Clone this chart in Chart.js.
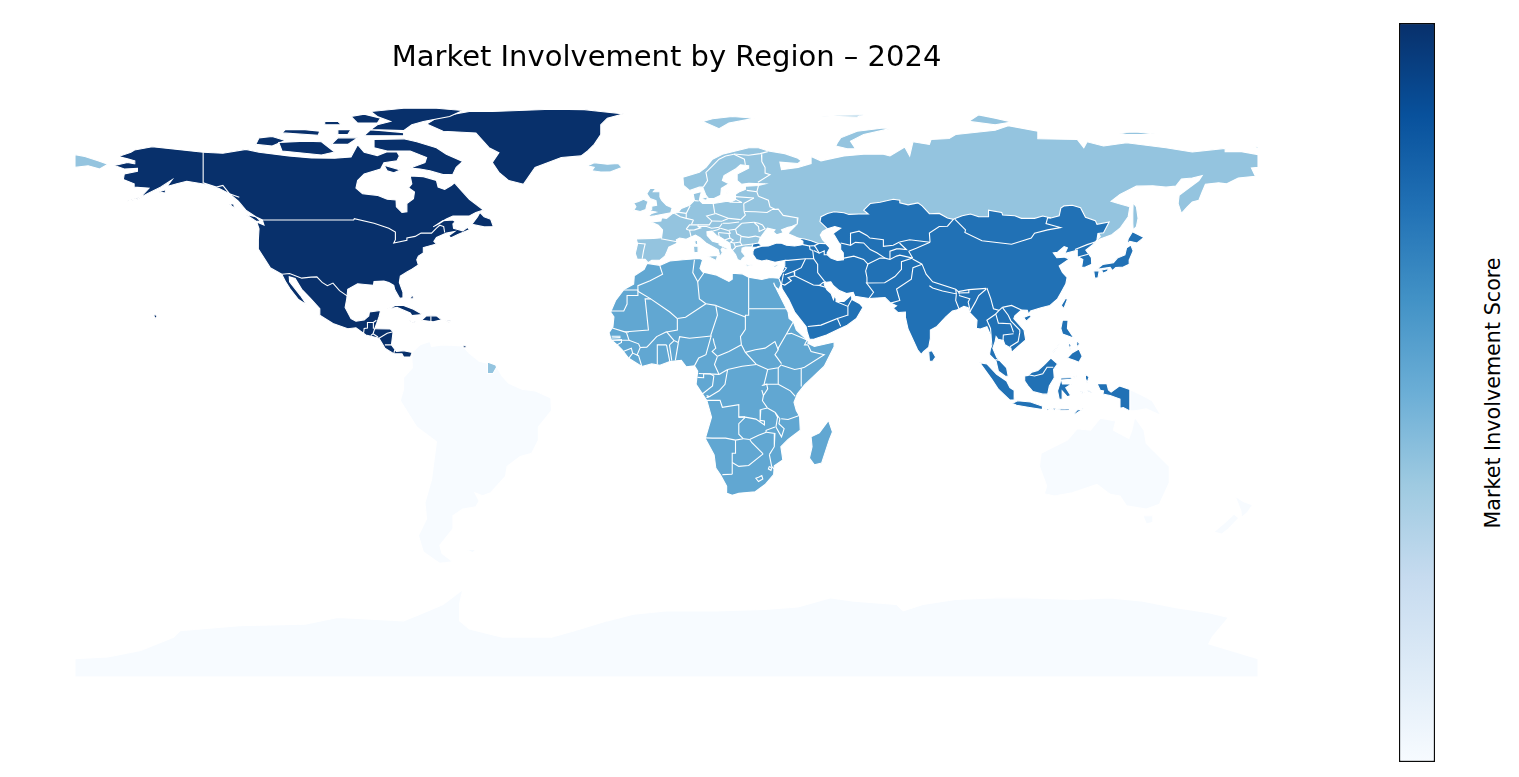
<!DOCTYPE html>
<html>
<head>
<meta charset="utf-8">
<title>Market Involvement by Region – 2024</title>
<script src="https://cdn.jsdelivr.net/npm/chart.js@4"></script>
<style>
  html, body { margin: 0; background: #fff; overflow: hidden; }
  #map { position: absolute; left: 0; top: 0; }
  #bar { position: absolute; left: 1393px; top: 17px; }
  #barLabel {
    position: absolute; left: 1493px; top: 393px; white-space: nowrap;
    font: 20.7px "DejaVu Sans"; color: #000;
    transform: translate(-50%, -50%) rotate(-90deg);
  }
</style>
</head>
<body>
<canvas id="map" width="1380" height="777"></canvas>
<canvas id="bar" width="48" height="751"></canvas>
<div id="barLabel">Market Involvement Score</div>
<script>
const chartTitle = 'Market Involvement by Region – 2024';
const regionNames = ['North America', 'Europe', 'Africa', 'Asia', 'Rest of world'];
const regionScores = [100, 40, 53, 75, 0];
const bluesStops = ['#f7fbff', '#deebf7', '#c6dbef', '#9ecae1', '#6baed6', '#4292c6', '#2171b5', '#08519c', '#08306b'];

// outlines are [lon, lat] pairs
const northAmericaShapes = [
  [[-168,65.6],[-164,66.5],[-162,66.1],[-161.8,67],[-164,67.6],[-166.8,68.3],[-163,69.6],[-161.9,70.3],[-156.5,71.3],[-148,70.4],[-141,69.6],[-135,69.3],[-128,70.5],[-124,69.6],[-115,68.5],[-108,67.9],[-101,67.8],[-96,68.2],[-94,71.9],[-92,69.6],[-88,68.6],[-85,69.8],[-82,69.7],[-81.3,68.5],[-82,67],[-86,66.4],[-87,64.5],[-92,63],[-94,61],[-94.5,58.7],[-92.5,57],[-88,56.5],[-85,55.3],[-82.3,55.1],[-82.2,53],[-80.5,51.3],[-79,51.5],[-79,54],[-77,55.5],[-76.7,57.5],[-78.5,58.8],[-77.5,60],[-78,62.4],[-74,62.2],[-70,61],[-69.5,59],[-67.5,58.3],[-65.5,59.5],[-64.5,60.3],[-62,57.5],[-60,55.3],[-57,53],[-55.7,52],[-58,51.3],[-60,50.2],[-65,50.2],[-67,49.3],[-69,48],[-71,46.9],[-68,48.8],[-65,49],[-64.3,48.5],[-65,47.8],[-64.8,46.5],[-62,45.7],[-60.5,46.8],[-60,46],[-63.5,44.6],[-65.7,43.5],[-66.2,44.3],[-64.5,45.5],[-67,45],[-70,43.7],[-70.8,42.5],[-70,41.7],[-74,40.6],[-74,39],[-75.5,38],[-76,36.9],[-75.5,35.3],[-77.5,34],[-79,33.2],[-81,31.9],[-81.3,30],[-80.2,27],[-80.2,25.3],[-81.2,25.2],[-82.7,27.8],[-83,29.1],[-84.5,30],[-86,30.4],[-89,30.3],[-89.2,29.1],[-91,29.3],[-94,29.6],[-97,27.9],[-97.3,25],[-97.8,22.4],[-96,19],[-94.5,18.2],[-92,18.6],[-90.6,19.8],[-90.4,21],[-87,21.5],[-87.5,19.5],[-88.2,17.5],[-88.8,15.9],[-84,15.8],[-83.2,15],[-83.7,11],[-82.2,9],[-80,9.2],[-77.4,8.7],[-77.9,7.3],[-80,7.3],[-80.5,8.3],[-83,8.3],[-85.7,10],[-87.5,13],[-91.5,14],[-94.5,16.2],[-97,15.9],[-101.5,17.5],[-105.5,20],[-105.5,22],[-108.5,25.3],[-111,27.9],[-113,31.2],[-114.8,31.7],[-114.7,30.2],[-111.4,26],[-109.5,23.2],[-112,24.8],[-114.5,28],[-115.8,30],[-117.1,32.5],[-120.6,34.5],[-122.5,37.5],[-124.3,40.3],[-124.2,43],[-124,46.3],[-124.7,48.4],[-122.5,47.5],[-123,49],[-125,50],[-128,52],[-130.3,54.7],[-133,57],[-136,58.5],[-140,59.8],[-146,60.8],[-149,60],[-152,59.2],[-150.5,61.2],[-154,59],[-158,57],[-161,55.3],[-164.5,54.6],[-160,56],[-157.5,58.7],[-162,59],[-162,60],[-165.3,61.3],[-165,63],[-161,63.8],[-161,64.7],[-165,64.5]],
  [[-80,73.7],[-76,72.8],[-70,71],[-67,69],[-62,66.8],[-64,65],[-65,62.9],[-68,62.8],[-72,64],[-75,64.5],[-78,64.8],[-73.5,66.5],[-73,68],[-78,70],[-85,70],[-89,71],[-89,73.5]],
  [[-117,70],[-105,68.8],[-101,69.7],[-105,72.8],[-110,73],[-118,72.6]],
  [[-125,72],[-120,71.5],[-116,73.2],[-120,74.4],[-124,74]],
  [[-90,76.5],[-80,76.2],[-77.5,78],[-74,79],[-66,80.5],[-62,82.3],[-70,83],[-80,83],[-90,82],[-88,80.5],[-84,79],[-88,78]],
  [[-92,74.7],[-80,74.6],[-80,75.6],[-90,76.5]],
  [[-94,78.5],[-88,78.5],[-87,80],[-92,81.2],[-96,80.5]],
  [[-117,75.5],[-106,74.8],[-105.5,76],[-110,76.5],[-116,76.5]],
  [[-102,72],[-97,72],[-94,74],[-100,74]],
  [[-100,75],[-97,75],[-96,76.5],[-100,76.5]],
  [[-104,78],[-99,78],[-100,79],[-104,79]],
  [[-86,65.7],[-81,64.2],[-83,63.4],[-85,64]],
  [[-59.2,47.7],[-55.5,46.9],[-52.7,47],[-53.5,49.2],[-55.5,50],[-56.8,51.3],[-57.5,50]],
  [[-128,50.7],[-125,50],[-123.3,48.5],[-125,48.7]],
  [[-133,53.9],[-131.7,53.9],[-131.5,52.5]],
  [[-154.5,57.5],[-152.5,58.2],[-152.5,57.2]],
  [[-156,20],[-155.5,20.2],[-155,19.6],[-155.7,19]],
  [[-85,21.9],[-82.5,23],[-80,23],[-77,21.8],[-74.2,20.2],[-77.5,19.9],[-78,20.7],[-82,22.4]],
  [[-74.5,18.5],[-73,19.9],[-70,19.8],[-68.4,18.6],[-71,18]],
  [[-78.3,18.3],[-76.3,18],[-77,17.8]],
  [[-67.2,18.4],[-65.7,18.3],[-66.2,17.9]],
  [[-78,25],[-77.3,26.5],[-77,25]],
  [[-61.9,10.7],[-61,10.8],[-61,10.1],[-61.9,10.1]],
  [[-73,78.2],[-68,76],[-58,75.5],[-54,71],[-51,69.5],[-53,66.5],[-51,63.5],[-48,61],[-43.5,59.9],[-40,65],[-32,68],[-26,68.5],[-24,70],[-22,72],[-20,75],[-20,78],[-18,80],[-13,81.3],[-20,82],[-25,82.6],[-35,82.7],[-45,82.3],[-53,82],[-60,82],[-66,81],[-70,80]]
];

const europeShapes = [
  [[-5.6,36],[-4.5,36.7],[-2,36.8],[-0.5,38],[0,39],[0.7,40.7],[3.2,41.9],[3,43],[4,43.5],[6,43.1],[7.5,43.8],[8.8,44.4],[10.2,43.6],[12,42],[13.5,41.2],[15.7,40],[16.1,38.7],[15.7,37.95],[16.5,38.3],[17,39],[16.6,40],[17,40.5],[18.4,39.9],[18.5,40.3],[16,41.5],[16,42],[14,42.5],[12.4,44.3],[12.3,45.4],[13.7,45.6],[14.5,45],[15.2,44.3],[17.5,43],[19.3,41.9],[19.5,40.4],[21,38.5],[21.6,37],[22.6,36.5],[23.1,37.3],[24,38],[22.9,39.3],[23,40.4],[24,40.8],[26,40.8],[26.5,41],[28,42],[28.5,43.5],[29.7,45.2],[30.7,46.5],[33,46],[32.5,45.4],[33.5,44.5],[35.5,45.1],[35,46],[37,46.8],[39.2,47.2],[38,46],[37.5,45.5],[37,44.8],[39,44],[40.5,43.2],[44,41.5],[48.4,41.5],[48.4,42],[47.5,43],[46.8,44.4],[47.5,45.5],[49,46.3],[50,48],[55,49],[60,49],[62,52],[70,53],[76,52],[80,49],[87,47],[92,48.5],[98,48.5],[102,49.5],[107,48.5],[113,48.5],[118,48],[121,51],[126,50.5],[128,47.5],[131,46],[132,44],[130.7,42.6],[130.7,42.3],[132,43.2],[135.5,44.5],[138,46.5],[140.5,50],[141,53],[137.5,54],[135.3,54.7],[138,56.8],[143,59.3],[148,59.4],[152,59],[155,59.3],[156.7,61.5],[160,61.8],[163,62.5],[162,61],[158,58],[156,56.5],[155.7,54],[156.7,51],[158.5,53],[160,54.5],[162,55],[163,57.5],[164,59.9],[168,60.3],[170.5,60],[174,61.8],[179.2,62.3],[178,64.8],[180,65],[180,68.9],[175,69.8],[170,69.8],[170,70.8],[160,69.7],[152,71],[140,72.5],[133,71.5],[128,72.8],[127,71],[125,73.5],[113,73.7],[113,76],[104,77.7],[100,76.3],[88,75],[86,73.8],[80.5,73.5],[80,72],[75,72.8],[74,68.5],[72.5,71.2],[68,68.5],[66,69],[60,69],[54,68.5],[47,67],[44,68.3],[44,66.2],[40,65],[35,64.3],[34.5,66.6],[40,66.2],[41,67],[40,67.8],[36,69.2],[31,70],[28,71],[25,71],[21,70],[17,69],[14,67.5],[12,65],[10,63.5],[5,62],[5.2,59.5],[7,58],[10,59],[11,59],[12,56.5],[12.8,55.5],[14.3,55.5],[16.5,56.5],[16.7,58.6],[19,60],[17,61],[17.5,62.5],[21,64.5],[22.5,65.8],[25,65.5],[25,64.8],[21.5,63],[21.5,61],[22.8,59.9],[25,60.2],[30,60],[28,59.5],[24,59.3],[24,58.3],[22,57.5],[21,56.8],[21,55.2],[19.5,54.4],[18.5,54.7],[14.3,54],[11,54],[10,55],[10.3,56.5],[10.7,57.7],[8.1,57],[8.5,55],[7,53.5],[4.5,52.5],[3.5,51.3],[1.7,50.9],[0,49.5],[-1.5,49.7],[-1.7,48.7],[-4.7,48.4],[-2.5,47.4],[-1.2,46],[-1.5,43.6],[-4,43.4],[-9.2,43.2],[-8.8,41.8],[-9.5,38.8],[-8.9,37],[-6.5,37]],
  [[-180,68.9],[-177,68.3],[-173,67],[-170,66],[-172.5,64.5],[-176,65.5],[-180,65]],
  [[-24,65.5],[-22,66.4],[-18,66],[-14.7,66.2],[-13.6,65],[-17,63.7],[-20,63.6],[-22.7,64],[-22,65]],
  [[-5.7,50],[-3.5,50.3],[1.3,51.2],[1.7,52.7],[0,53.5],[-1.5,55],[-2,56],[-2,57.6],[-4,57.6],[-3.2,58.6],[-5,58.6],[-6,57],[-5,55.5],[-3.2,54.9],[-3,53.5],[-4.5,53.2],[-4.5,52.2],[-5.2,51.8],[-3.2,51.4],[-4.5,51]],
  [[-10,52],[-8,51.6],[-6.3,52.2],[-6,53.5],[-5.6,54.6],[-7,55.3],[-8.5,54.6],[-10,54.2],[-9.3,53]],
  [[11,79],[16,76.8],[19,78.5],[27,80],[20,80.5],[14,79.8]],
  [[51.5,71.5],[55,70.7],[57.5,70.7],[56,73],[60,75],[68,76.8],[66,77],[58,76],[53,74],[52,72.5]],
  [[92,79],[100,78],[105,78.8],[100,80],[95,81]],
  [[137,75.6],[143,75.8],[150,75],[146,75],[140,75]],
  [[47,80.6],[52,80.9],[60,81],[58,80.3]],
  [[178.7,71],[180,71.5],[180,70.9]],
  [[142,54.3],[143,53],[143.5,49.5],[143,47],[142,46],[141.9,48],[141.9,51]],
  [[12.5,38],[15.6,38.2],[15.1,36.7]],
  [[8.2,41],[9.7,41],[9.6,39.2],[8.4,39]],
  [[8.6,42.5],[9.4,43],[9.5,41.6],[9.2,41.4],[8.7,41.8]],
  [[23.6,35.6],[26.3,35.3],[24.5,34.95]],
  [[32.3,35],[34.5,35.6],[33.8,34.9],[32.9,34.6]],
  [[11,55.7],[12.5,56],[12.2,55],[11.2,55.2]],
  [[18.2,57.1],[19,57.9],[18.8,57.2]],
  [[-54.5,5.8],[-52,4.9],[-51.7,4.2],[-52.8,2.3],[-54.4,2.3]]
];

const africaShapes = [
  [[-5.9,35.8],[-2,35.2],[1,36.5],[5,36.9],[10,37.3],[11,36.9],[10.2,34.3],[11,33.2],[15,32.3],[19,30.3],[20,31],[20,32.8],[23,32.6],[25,31.6],[29,30.9],[31.5,31.5],[34.2,31.3],[34.9,29.5],[34.2,27.8],[33,28.8],[32.6,29.9],[33.7,27.5],[35.5,24],[37,21],[37.3,19],[38.6,18],[39.5,15.5],[42,13.2],[43.2,12],[43,11.5],[45,10.5],[51,11.9],[51,10.4],[48,4.5],[42,-1.2],[39.8,-4],[38.8,-6.5],[39.5,-9],[40.5,-10.7],[40.7,-15],[37,-17.8],[34.8,-20],[35.4,-24],[32.8,-25.8],[32.6,-28.5],[30,-31.5],[27,-33.7],[22,-34.2],[20,-34.8],[18.4,-34.2],[18.3,-32],[16.5,-28.7],[15,-26.5],[14.5,-22.5],[11.8,-17.5],[13.7,-11],[12.3,-6],[9,-1],[9.5,3],[8.5,4.6],[6,4.3],[4.5,6.3],[1,5.9],[-2,4.8],[-4.5,5.2],[-7.5,4.4],[-11.5,6.9],[-13.5,9.5],[-15,11],[-16.8,12.5],[-17.5,14.7],[-16.3,16.5],[-16,19.5],[-17,21],[-15.5,24.5],[-13,27.8],[-10,29.5],[-9.8,32],[-6.8,34]],
  [[49.3,-12],[50.5,-15.5],[49.5,-18],[47.2,-25],[45,-25.5],[43.5,-23.5],[44.3,-20],[44,-17],[46.5,-15.8]]
];

const asiaShapes = [
  [[26.3,39.5],[26.7,40.3],[29,41],[31,41.1],[33.5,42],[35,41.9],[36.5,41.3],[39,41.1],[41.5,41.5],[41.5,42.5],[40,43.5],[42,43.2],[44,42.7],[46,41.9],[48.5,41.8],[49.7,40.5],[49,39.2],[48.9,38.4],[50,37.4],[52,36.7],[54,36.9],[53.8,39],[53,40],[53,41.5],[52.5,42],[51,44.5],[50.3,44.5],[51.3,45.3],[53,46.5],[51.2,47],[49,46.3],[46.7,48.5],[47,50],[49,51],[51,51.5],[54,51.2],[55.5,50.7],[58.5,50.8],[61.4,50.8],[60,52],[61,53],[62,54],[65,54.4],[69,55.3],[71,55],[71,54.2],[73.5,53.6],[76.5,54.2],[77.8,53.3],[80,50.9],[83,51],[85.5,49.6],[87.3,49.2],[88,49.5],[90,50.3],[92.5,50.8],[95,50],[98,50],[98,52],[102,51.3],[102.3,50.5],[106,50.3],[108,49.5],[112,49.5],[114.5,50.2],[117,49.6],[119.5,50.3],[120,52.6],[121,53.3],[123.5,53.5],[126,52.7],[127.5,49.8],[130.5,48.8],[131,47.7],[134.7,48.4],[133,45.1],[131.3,44.9],[131,43],[130.6,42.4],[129.7,41.5],[127.6,39.8],[129.3,37.5],[129.4,35.5],[127.5,34.7],[126.3,34.5],[126.7,37],[125,38],[125,39.8],[122,39],[121.2,38.8],[122,40.5],[121,40.9],[119,39.2],[117.7,39],[118.8,37.5],[121,37.7],[122.5,37.1],[119.5,35],[120.5,33],[121.9,31.5],[121.5,29.5],[120,26.8],[119,25],[116.7,23],[114,22.3],[110.8,21.3],[110.2,20.3],[109.8,21.5],[108,21.6],[106,19.8],[105.7,19],[108.8,15.5],[109.3,12.5],[107,10.5],[105,8.7],[104.8,10],[103,11],[102.5,12.3],[100.9,12.7],[100.3,13.5],[100,12],[99.3,10],[100.5,7.2],[103.5,4],[104,1.4],[103,1.5],[101,3],[100.3,6],[98.3,8],[98.6,10],[98.6,14],[97.5,16.5],[95.5,15.8],[94.3,16],[94.5,18.5],[92.3,20.8],[91.8,22.3],[90.5,22.7],[88.5,21.7],[87,21.3],[85,19.5],[82.3,16.6],[80.3,15.5],[80.3,13],[79.8,10.3],[78.2,8.9],[77.5,8.1],[76.4,9.5],[74.8,13],[73.5,15.8],[72.8,19],[72.7,21],[70.5,20.8],[69,22.2],[70,22.9],[68.2,23.7],[67,24.9],[66.5,25.4],[61.6,25.1],[57.3,25.8],[56.8,27],[54.8,26.6],[52.6,27.5],[50.8,29],[50,30.2],[48,30],[48,29.3],[48.8,27.8],[50.1,26.6],[50.8,24.8],[51.2,26.1],[51.6,25],[51.6,24.2],[54,24.2],[56.3,26.2],[56.4,24.8],[58.7,23.6],[59.8,22.4],[57.8,19],[55,17],[52.2,15.7],[48.7,14],[45,12.8],[43.5,12.7],[42.8,15],[42.5,16.5],[39,21],[37.2,24.8],[35.2,28],[34.9,29.5],[34.2,31.3],[34.9,32.5],[35.9,35],[36,36.7],[33,36.1],[30.5,36.8],[29,36.5],[27.3,37],[26.3,38.5]],
  [[26,40.7],[26.3,41.7],[28,42],[29,41.2],[27.3,40.7]],
  [[130.9,34],[132.8,35.5],[136,36],[137.2,37.4],[139.5,38.4],[140,40.5],[141.3,41.4],[142,39.6],[140.9,37],[140.8,35.5],[139,34.7],[136.7,34.5],[135.7,33.6],[135,34.6],[132.5,34.2]],
  [[130,33.5],[131.7,33.6],[131.3,31.4],[130.3,31.3]],
  [[132.4,33.8],[134.5,34.2],[134.2,33.4],[132.8,32.8]],
  [[140.2,41.6],[140.5,43.3],[141.8,45.4],[145.3,43.7],[143.2,42],[141,42.5]],
  [[121.5,25.3],[122,24.8],[120.9,22],[120.1,23]],
  [[108.7,19.3],[110.5,20.1],[111,19.6],[109.5,18.2]],
  [[79.8,9],[80.8,9.2],[81.9,7.3],[81,6],[80,6.1]],
  [[120.5,18.5],[122.2,18.5],[122,16],[124,13],[122,13.8],[120.5,14.3],[120,16]],
  [[122,7],[123.5,8.6],[125.5,9.7],[126.5,7.5],[125.5,5.7],[124,6.3]],
  [[125,12.5],[125.7,11.2],[124.7,10.3]],
  [[122.2,11.7],[123.1,11],[122.8,9.5]],
  [[117.3,8.5],[119.6,11.3],[118,9]],
  [[109,1.5],[110,1.7],[111.2,2.7],[113,3.2],[115,5],[117,7],[119,5.2],[117.8,3.5],[118,1],[116.5,-1.5],[116,-4],[114.5,-4],[111.5,-3.2],[110,-1.5],[109,0]],
  [[95.3,5.6],[97.5,5.2],[100.5,2],[103.5,0],[104.5,-2],[106,-3],[105.8,-5.8],[104.5,-5.8],[101,-2.5],[99,0.5]],
  [[105.3,-6.8],[106.8,-6],[110.8,-6.4],[114.5,-7.7],[114.4,-8.7],[110,-8],[106.5,-7.4]],
  [[119.5,-5.5],[120.4,-5.6],[120.4,-3],[122,-4.8],[123,-4.4],[121.5,-2],[123.3,-0.9],[120.5,-0.9],[120.2,0.3],[123,0.5],[125,1.6],[123,1],[120,0.9],[119.8,-0.5],[119,-3]],
  [[127.5,2],[128.6,1.3],[128,-0.5],[127.6,0.5]],
  [[131,-0.8],[134,-0.8],[134.5,-2.7],[135.3,-3.4],[137.9,-1.5],[141,-2.6],[141,-9.1],[139,-8.1],[138,-8.3],[138,-5.5],[135,-4.4],[132.8,-4],[133,-3],[132,-2.8]],
  [[119,-8.5],[123,-8.3],[122.5,-8.8],[120,-8.9]],
  [[124,-9.9],[125,-8.8],[127,-8.4],[124.2,-10.2]],
  [[128,-3],[130.8,-3.2],[129,-3.4]],
  [[126,-3.2],[127.2,-3.4],[126.5,-3.8]],
  [[115,-8.3],[116.7,-8.4],[116,-8.9]],
  [[117,-8.2],[119,-8.3],[118,-8.9]]
];

const restShapes = [
  [[-77.4,8.7],[-75,11],[-72,12],[-71.5,10.5],[-68,11],[-62,10.7],[-60,8.4],[-57,6],[-52,4.9],[-50,1.5],[-48,-0.7],[-44,-2.5],[-40,-3],[-35.2,-5.2],[-35,-9],[-39,-14],[-39,-18],[-41,-22],[-44.5,-23],[-48.5,-26],[-49,-29],[-53.5,-34],[-56,-34.9],[-58.3,-34],[-57,-36.5],[-58,-38.3],[-62,-39],[-65,-41],[-65,-45],[-69,-50],[-68.3,-52.5],[-65,-55],[-69,-55.5],[-74,-52],[-75.5,-47],[-73,-42],[-73.5,-37],[-71.5,-30],[-70,-18.5],[-76,-14],[-81,-6],[-80,-2.5],[-80,1],[-77.3,4],[-77.5,7]],
  [[114,-22],[113.5,-26],[115.7,-32],[115,-34.3],[118,-35],[123.5,-34],[131,-31.5],[135,-34.5],[138,-35],[140,-38],[146,-39],[150,-37.5],[153,-31],[153,-26],[146,-19],[145.3,-15],[142.5,-11],[141.6,-15],[140.7,-17.5],[136,-15],[136.7,-12.2],[132,-11.3],[129,-15],[125,-14.5],[122,-18],[117,-20.5]],
  [[145,-41],[148,-41],[148,-43],[146,-43.5]],
  [[141,-2.6],[145,-4.5],[147.8,-6],[150.5,-10.5],[146,-8.5],[143,-9],[141,-9.1]],
  [[173,-35],[175.5,-36.7],[178.4,-37.7],[176.8,-40],[175,-41.5],[174.8,-39.5]],
  [[172.7,-40.5],[174.2,-41.7],[171,-45],[169,-46.6],[166.5,-46],[170,-43]],
  [[-61,-51.3],[-58,-51.3],[-59,-52.3]],
  [[-180,-84.5],[-170,-84],[-160,-82],[-150,-78],[-148,-76],[-130,-74.5],[-110,-74],[-100,-72],[-80,-73],[-75,-71],[-68,-68],[-62,-63.5],[-63,-68],[-63,-73],[-60,-75.5],[-50,-78],[-35,-78],[-28,-76],[-18,-73],[-10,-71],[0,-70],[15,-70],[30,-69.5],[40,-68.8],[50,-66],[57,-67],[70,-68],[72,-70],[78,-68],[88,-66.5],[100,-66],[110,-66],[125,-66.5],[135,-66],[145,-67],[155,-69],[165,-70.5],[171,-72],[166,-78],[165,-80],[180,-84.5],[180,-90],[-180,-90]]
];

const northAmericaBorders = [
  [[-141,69.6],[-141,60.3],[-137,59],[-135,59.5],[-133,57],[-130,55.9]],
  [[-123,49],[-95.2,49],[-95,49.4],[-89,48],[-84.5,46.5],[-82.5,45.3],[-82.5,43],[-83,42],[-79,42.8],[-79,43.5],[-76.5,44],[-74.7,45],[-71.5,45],[-70,46.5],[-69,47.4],[-67.8,47],[-67.5,45.2]],
  [[-117.1,32.5],[-114.7,32.7],[-111,31.3],[-108.2,31.6],[-106.4,31.7],[-104.8,30],[-103.2,29],[-101.5,29.8],[-99.5,27.5],[-97.2,25.9]],
  [[-92.2,14.5],[-92,16],[-91,16.1],[-91,17.8],[-89.2,17.8],[-88.3,18.5]],
  [[-89.2,17.8],[-89.2,15.9]],
  [[-88.8,15.9],[-89.3,14.4],[-90,13.8]],
  [[-89.3,14.4],[-87.8,13.4]],
  [[-87.5,13],[-85,14.5],[-83.2,15]],
  [[-85.7,11],[-83.7,11]],
  [[-83,8.3],[-82.7,9.5]],
  [[-71.7,19.7],[-71.7,18.1]]
];

const europeBorders = [
  [[11.2,59],[12.5,61],[12,63.5],[14,65.5],[16,67.5],[18,68.5],[20.5,69]],
  [[20.5,69],[23.7,67.5],[24,65.8]],
  [[20.5,69.1],[25,68.7],[28.5,69.2],[30.8,69.8]],
  [[28.9,69],[29,66.8],[30,65],[30,63.3],[31.5,62.8],[27.8,60.5]],
  [[28,59.5],[27.5,57.6]],
  [[24.4,58],[27.5,57.6],[28,56.2]],
  [[21,56.1],[26.6,55.7]],
  [[26.6,55.7],[23.5,54]],
  [[28,56.2],[31,55],[31.5,53],[33,52.3]],
  [[23.7,51.6],[27,51.5],[30.6,51.3],[32,52.1]],
  [[23.5,54],[23.6,51.6]],
  [[19.7,54.4],[23,54.3]],
  [[21,55.3],[22.8,54.4]],
  [[32,52.2],[34,52.3],[35.5,50.4],[40,49.6],[39.8,47.8],[38.3,47.1]],
  [[23.6,51.6],[24,50.5],[22.6,49.1]],
  [[26.6,48.3],[28,48],[29.2,47.5],[30,46.3],[28.2,45.5],[28,47],[26.6,48.3]],
  [[22.9,48],[26.6,48.3]],
  [[22.7,44],[25,43.7],[27,44.1],[28.6,43.7]],
  [[21,46.2],[22.9,48]],
  [[21,46.2],[21.4,44.8],[22.7,44.2]],
  [[22.1,48.4],[19,48],[17.2,48]],
  [[22.6,49.1],[19,49.5],[17,48.7]],
  [[18.8,49.5],[15,51]],
  [[15,51],[12.2,50.2],[13.8,48.7]],
  [[13.8,48.7],[17,48.6]],
  [[14.2,54],[14.7,51]],
  [[13.8,48.7],[13,47.5],[9.6,47.5]],
  [[17,48],[16.1,46.8]],
  [[9.6,47],[12.2,47],[13.7,46.5],[16.1,46.8]],
  [[6,46.2],[7,47.5],[9.6,47.5],[9.6,47],[10.4,46.6],[8.5,46],[7,45.9],[6,46.2]],
  [[8.2,49],[7.6,47.6]],
  [[2.5,51],[4.2,50],[6,49.5],[8.2,49]],
  [[3.4,51.4],[6,51]],
  [[7.2,53.3],[6,51],[6,49.5]],
  [[7.5,43.8],[7,45.9]],
  [[-1.7,43.3],[3.2,42.4]],
  [[-8.8,41.9],[-6.5,41.7],[-7,39.6],[-7.4,37.2]],
  [[8.6,54.9],[9.8,54.8]],
  [[13.6,45.5],[15.5,46],[16.4,46.5]],
  [[16.4,46.5],[18.8,45.8]],
  [[18.9,45.9],[19.4,45],[19,44.9]],
  [[15.8,45.2],[19,44.9],[19.3,43.5],[17.7,42.9]],
  [[15.8,45.2],[16,44],[17.5,43]],
  [[19.3,43.5],[20.3,42.9],[19.4,42.2]],
  [[19.4,42.2],[20.5,42],[21,40.7],[20,39.7]],
  [[20.5,42],[22.4,42.3],[23,41.3],[21,40.9]],
  [[23,41.3],[26.3,41.7]],
  [[22.7,44.2],[22.4,42.3]],
  [[18.9,45.9],[21,46.2]]
];

const africaBorders = [
  [[-2,35],[-1.2,32.5],[-5,30.5],[-8.7,29],[-8.7,27.5]],
  [[-13,27.7],[-8.7,27.7],[-8.7,26],[-12,26],[-12,23.4],[-13,21.3],[-17,21.3]],
  [[-8.7,27.3],[-4.8,25],[1,21],[3.3,19]],
  [[3.3,19],[5.8,19.4],[12,23.5]],
  [[9.5,30.2],[10,25],[12,23.5]],
  [[8.5,36.9],[8,33],[9.5,30.2],[11.5,33.1]],
  [[25,31.6],[25,22]],
  [[25,22],[36.9,22]],
  [[15,23],[24,19.5]],
  [[24,19.5],[24,20],[25,20],[25,22]],
  [[12,23.5],[15,23]],
  [[15,23],[15.5,20],[13.5,14],[13.6,13.7]],
  [[-4.8,25],[-6.5,25],[-5.5,15.5],[-12.2,15],[-11.5,14.8]],
  [[-16.5,16.1],[-12.2,14.8]],
  [[3.3,19],[3.3,15.5],[0,14.9]],
  [[-5.3,11],[-3,13.5],[0,15]],
  [[-12.2,14.8],[-11.4,12.4]],
  [[-16.7,12.4],[-11.4,12.4],[-8.5,11.3],[-8,10.2],[-9,7.8]],
  [[-16.7,13.6],[-14,13.6]],
  [[-16.7,13.1],[-14,13.2]],
  [[-16.7,12.4],[-13.7,12.6],[-13.7,11.7],[-15,11]],
  [[-13.2,9],[-10.7,10],[-10.3,8.5]],
  [[-11.5,6.9],[-10.3,8.5],[-8.5,7.7],[-7.5,4.4]],
  [[-8,10.2],[-6,10.3],[-5.3,11]],
  [[-2.8,5],[-2.8,9.5],[-2.8,11],[0,11]],
  [[1,6],[0,11]],
  [[1.6,6.2],[0.9,11]],
  [[2.7,6.3],[3.6,11.7]],
  [[3.6,11.7],[4,13.5],[7,13],[10,13.3],[13.6,13.7]],
  [[0,15],[2.3,12.3]],
  [[0.9,11],[2.3,12.3],[3.6,11.7]],
  [[8.5,4.6],[9.8,7],[12,8],[13.6,13.7]],
  [[14.2,13],[14.5,11.5],[15,10],[13.9,9],[15.5,7.5]],
  [[15.5,7.5],[14.6,5],[16,2]],
  [[9.8,2.3],[16,2]],
  [[9.4,1.1],[11.3,1],[11.3,2.2]],
  [[11.3,2.2],[13.3,2.2],[14.4,1.5],[14,-1.5],[11,-3.9],[10,-3]],
  [[16,2],[18.6,3.5]],
  [[12.2,-5],[13,-4.8],[16,-3],[17.8,-1],[18.6,3.5]],
  [[18.6,3.5],[23,4.5],[27.4,5]],
  [[15.5,7.5],[19,9],[22.8,11]],
  [[24,19.5],[24,15.7],[22.5,13.5],[22.8,11]],
  [[22.8,11],[24,8.7],[27.4,5]],
  [[24,8.7],[27,9.5],[30,10],[33,12],[34,9.5]],
  [[36.5,14.3],[34,10],[34,9.5]],
  [[34,9.5],[33,8],[35,5.3]],
  [[35,5],[34,4],[30.8,3.5],[27.4,5]],
  [[30.8,3.5],[29.6,-1.4]],
  [[34,4],[34,0],[34,-1]],
  [[30,-1],[34,-1]],
  [[34,-1],[37.7,-3],[39.2,-4.7]],
  [[41,-1.7],[41,3.9]],
  [[35,4.8],[39,3.5],[41,3.9]],
  [[41,3.9],[42,4.2],[48,8],[44,9],[43,11]],
  [[36.5,14.3],[38,14.5],[42.8,12.5]],
  [[38.6,18],[36.5,14.3]],
  [[42.8,12.5],[42,11],[43,11]],
  [[29,-1.4],[30.5,-1],[30.8,-2.4],[29.5,-4.4],[29,-2.8]],
  [[29.5,-4.4],[29.2,-6],[30.7,-8.2]],
  [[30.7,-8.2],[28.7,-8.7],[28.5,-12],[29.8,-12.2],[29.8,-13.4],[27.2,-11.6],[24,-11],[22,-11]],
  [[12.2,-5.9],[16.3,-5.9],[17,-8],[22,-7.2],[22,-11],[23.9,-10.9]],
  [[12.2,-5],[13,-4.7],[12.2,-4.4]],
  [[24,-11],[22,-13],[22,-16.2],[23.4,-17.6]],
  [[11.8,-17.3],[14,-17.4],[18,-17.4],[21,-18],[23.4,-17.6]],
  [[21,-18],[21,-22],[20,-22],[20,-28.4]],
  [[20,-28.4],[17,-28.5]],
  [[23.4,-17.6],[25.3,-17.8]],
  [[25.3,-17.8],[28,-16.5],[30.4,-15.6]],
  [[25.3,-17.8],[26,-18.8],[29.4,-22.2]],
  [[20,-24.8],[22,-26],[25,-25.7],[29.4,-22.2]],
  [[30.4,-15.6],[33,-16],[32.8,-20],[31.3,-22.4]],
  [[31.3,-22.4],[32,-26],[32.8,-26.8]],
  [[31.3,-26],[32,-26.5],[31.8,-27.2],[31,-26.8],[31.3,-26]],
  [[28,-29.3],[29,-28.8],[29.3,-29.8],[28,-30.6],[27.2,-29.6],[28,-29.3]],
  [[33,-9.5],[34.5,-11.5],[34.2,-13],[35.8,-14.5],[35,-17],[34.3,-15.8],[33.3,-14],[33.8,-11],[33,-9.5]],
  [[30.4,-15.6],[30.3,-15],[33,-14]],
  [[30.7,-8.2],[33,-9.5]],
  [[34.9,-11.5],[37,-11.7],[40.4,-10.5]]
];

const asiaBorders = [
  [[36,36.7],[37,36.7],[42.3,37.2],[44.8,37.2],[44.5,39.7]],
  [[41.5,41.5],[43.5,41.1],[43.7,40],[44.5,39.7]],
  [[43.5,41.1],[45,41.2],[46.5,41.9]],
  [[45,41.2],[45.5,40.5],[46.5,38.9]],
  [[44.8,39.7],[46.5,38.9],[48,39.6],[48,38.4],[48.9,38.4]],
  [[42.3,37.2],[41,34.5],[38.8,33.4]],
  [[36,32.3],[38.8,33.4],[39,32],[37,31.5],[38,30.5],[36,29.2],[35,29.5]],
  [[35.9,34.6],[36.5,34.4],[35.7,33.3],[35.1,33.1]],
  [[35.6,32.7],[35,29.5]],
  [[39,32],[44.7,29.2],[46.5,29.1],[47.7,30],[48,30]],
  [[46.5,29.1],[48.4,28.5]],
  [[44.8,37.2],[46,35.5],[46,33],[48,30.5],[48.5,30]],
  [[43,16.6],[47,17],[52,19],[53,16.7]],
  [[52,19],[55,20],[55.2,22.7]],
  [[51.6,24.2],[55.2,22.7],[56,24.2],[56.4,24.9]],
  [[61.6,25.1],[63,27],[60.9,29.8],[61,31.5],[60.6,33.5],[61.3,35.6]],
  [[61.3,35.6],[60,37],[57,38],[54,37.4]],
  [[61.3,35.6],[65,37.4],[66.5,37.4],[68,37],[70,38],[71,38.3],[74.9,37.4]],
  [[60.9,29.8],[66.4,29.9],[69.5,31.8],[71.5,34],[71.5,36.3],[74.9,37.4]],
  [[68.2,23.7],[71,24.5],[70,28],[74.5,31],[75,34.5],[77.8,35.5]],
  [[74.9,37.1],[77.8,35.5]],
  [[53,42],[56,41.3],[56,45],[58.6,45.6],[61,44.3],[61.9,43.5],[66,43],[66,41],[69,41.3],[70.9,42.3]],
  [[56,41.3],[57.5,42.2],[60,42],[62,40],[64,39],[66.5,37.4]],
  [[67.8,37.2],[68,39.5],[70,40.2],[71,40.2],[73,40],[70.9,42]],
  [[70.9,42.3],[74,43],[80.2,42.2]],
  [[73.7,39.5],[76,40.4],[80.2,42.2]],
  [[73.7,39.5],[74.9,37.4]],
  [[80.2,42.2],[80,45],[83,47],[85.5,47.1],[87.3,49.2]],
  [[87.8,49.2],[91,46],[90.8,45.2],[96,42.7],[105,41.6],[111,43.5],[112,45],[116,46],[119.9,46.7],[115.5,47.9],[116,49.7],[117,49.6]],
  [[77.8,35.5],[79,32.5],[81,30.2],[88,27.9],[88.8,27.2],[92,27.8],[97.3,28.2]],
  [[80,29],[81,28.3],[84,27.4],[88.2,26.5],[88,27.9]],
  [[88.8,27.2],[89,26.8],[92,26.9],[92,27.8]],
  [[88.2,26.4],[88,24.5],[89,22]],
  [[89,26],[92.3,25],[91.8,24],[92.5,21]],
  [[92.3,21],[94,24],[95,26],[97.3,28]],
  [[97.5,28.3],[98.7,25],[99.5,22],[101.2,21.5],[102.2,22.4]],
  [[102.2,22.4],[105,23],[108,21.6]],
  [[102.2,22.4],[104,20],[104.8,18.3],[107.5,15.5],[107.5,14.7]],
  [[101.2,21.5],[100.2,20.4],[101,17.6],[104.7,17.4],[105.6,14.8]],
  [[100.2,20.4],[97.5,18.5],[98.6,16],[99,11],[98.7,10]],
  [[102.4,12.2],[102.5,14],[105.6,14.4]],
  [[107.5,14.7],[107,12],[104.5,10.4]],
  [[100.1,6.5],[102,6.2]],
  [[124.3,40],[128,41.5],[130.6,42.4]],
  [[125.5,37.8],[128.3,38.6]],
  [[109.6,2],[112,1.5],[114.5,2.2],[115.8,4.2],[117.7,4.2]]
];

function bluesColor(score) {
  const pos = score / 100 * (bluesStops.length - 1);
  const low = Math.floor(pos), high = Math.min(low + 1, bluesStops.length - 1);
  const part = c => [1, 3, 5].map(i => parseInt(c.substr(i, 2), 16));
  const a = part(bluesStops[low]), b = part(bluesStops[high]);
  const mix = a.map((v, i) => Math.round(v + (b[i] - v) * (pos - low)));
  return `rgb(${mix.join(',')})`;
}

function toPoints(pairs) {
  return pairs.map(p => ({ x: p[0], y: p[1] }));
}

function shapeDataset(pairs, score, order) {
  return {
    label: regionNames[regionScores.indexOf(score)],
    data: toPoints(pairs.concat([pairs[0]])),
    regionFill: bluesColor(score),
    borderColor: '#fff',
    borderWidth: 1.1,
    showLine: true,
    pointRadius: 0,
    order,
  };
}

function borderDataset(pairs) {
  return { data: toPoints(pairs), borderColor: '#fff', borderWidth: 1.1, showLine: true, pointRadius: 0, order: 0 };
}

// Chart.js has no closed-polygon fill for scatter lines, so fill from the parsed points
const regionFillPlugin = {
  id: 'regionFill',
  beforeDatasetDraw(chart, args) {
    const fill = chart.data.datasets[args.index].regionFill;
    if (!fill) return;
    const ctx = chart.ctx;
    const pts = args.meta.data;
    ctx.save();
    ctx.beginPath();
    pts.forEach((p, i) => (i ? ctx.lineTo(p.x, p.y) : ctx.moveTo(p.x, p.y)));
    ctx.closePath();
    ctx.fillStyle = fill;
    ctx.fill();
    ctx.restore();
  },
};

const datasets = [
  ...northAmericaBorders.map(borderDataset),
  ...europeBorders.map(borderDataset),
  ...africaBorders.map(borderDataset),
  ...asiaBorders.map(borderDataset),
  ...asiaShapes.map(s => shapeDataset(s, regionScores[3], 1)),
  ...northAmericaShapes.map(s => shapeDataset(s, regionScores[0], 2)),
  ...africaShapes.map(s => shapeDataset(s, regionScores[2], 2)),
  ...europeShapes.map(s => shapeDataset(s, regionScores[1], 3)),
  ...restShapes.map(s => shapeDataset(s, regionScores[4], 4)),
];

new Chart(document.getElementById('map'), {
  type: 'scatter',
  data: { datasets },
  plugins: [regionFillPlugin],
  options: {
    responsive: false,
    animation: false,
    layout: { padding: { left: 75, right: 122, top: 0, bottom: 100.3 } },
    plugins: {
      legend: { display: false },
      tooltip: { enabled: false },
      title: {
        display: true,
        text: chartTitle,
        color: '#000',
        font: { family: 'DejaVu Sans', size: 29, weight: 'normal' },
        padding: { top: 40.6, bottom: 26.3 },
      },
    },
    scales: {
      x: { type: 'linear', min: -180, max: 180, display: false },
      y: { type: 'linear', min: -90, max: 85, display: false },
    },
  },
});

new Chart(document.getElementById('bar'), {
  type: 'bar',
  data: {
    labels: ['Market Involvement Score'],
    datasets: [{
      data: [[0, 100]],
      backgroundColor(c) {
        const area = c.chart.chartArea;
        if (!area) return bluesStops[0];
        const grad = c.chart.ctx.createLinearGradient(0, area.bottom, 0, area.top);
        bluesStops.forEach((col, i) => grad.addColorStop(i / (bluesStops.length - 1), col));
        return grad;
      },
      borderColor: '#0a0a0a',
      borderWidth: 1.5,
      borderSkipped: false,
      barPercentage: 1,
      categoryPercentage: 1,
    }],
  },
  options: {
    responsive: false,
    animation: false,
    layout: { padding: 6 },
    plugins: { legend: { display: false }, tooltip: { enabled: false } },
    scales: {
      x: { display: false },
      y: { min: 0, max: 100, display: false },
    },
  },
});
</script>
</body>
</html>
